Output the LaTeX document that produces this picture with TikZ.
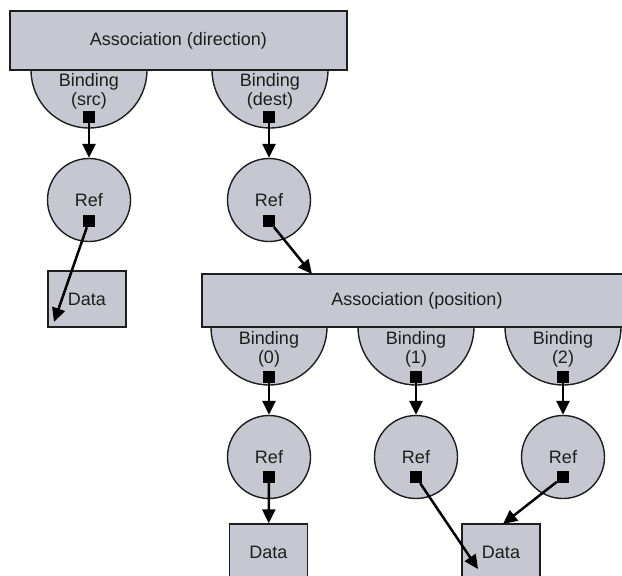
\documentclass[tikz,border=0pt]{standalone}
\usepackage{fontspec}
\setmainfont{Liberation Sans}
\usetikzlibrary{arrows.meta}
\definecolor{shade}{RGB}{199,199,209}
\definecolor{ink}{RGB}{30,30,30}
\begin{document}
\begin{tikzpicture}[x=1pt,y=-1pt,
  every node/.style={font=\fontsize{18}{19}\selectfont, text=ink},
  outline/.style={draw=ink, line width=1.4pt, fill=shade},
  assoc/.style={outline, inner sep=0pt},
  refnode/.style={outline, circle, minimum size=83pt, inner sep=0pt},
  databox/.style={outline, minimum width=78pt, minimum height=56pt, inner sep=0pt},
  port/.style={fill=black, minimum size=12pt, inner sep=0pt},
  bindtext/.style={align=center, inner sep=0pt},
  link/.style={line width=2.5pt, draw=black, -{Triangle[length=14pt,width=13pt]}},
]
\useasboundingbox (0,0) rectangle (622,576);
\clip (0,0) rectangle (622,576);

% half-disc bindings hanging under the association bars
\newcommand\halfdisc[2]{%
  \filldraw[outline] (#1-58,#2) arc[start angle=180, end angle=360, radius=58pt];}
\halfdisc{89}{70}
\halfdisc{270}{70}
\halfdisc{269}{327}
\halfdisc{416}{327}
\halfdisc{563}{327}

% association bars
\node[assoc, minimum width=337pt, minimum height=59pt] (dir) at (178.5,40.5) {Association (direction)};
\node[assoc, minimum width=430pt, minimum height=53pt] (pos) at (417,300.5) {Association (position)};

% binding labels and their ports
\node[bindtext] (bsrc) at (89,91) {Binding\\(src)};
\node[bindtext] (bdst) at (270,91) {Binding\\(dest)};
\node[bindtext] (b0) at (269,349) {Binding\\(0)};
\node[bindtext] (b1) at (416,349) {Binding\\(1)};
\node[bindtext] (b2) at (563,349) {Binding\\(2)};
\node[port] (psrc) at (89,117) {};
\node[port] (pdst) at (269,117) {};
\node[port] (p0) at (269,377) {};
\node[port] (p1) at (416,377) {};
\node[port] (p2) at (563,377) {};

% references
\node[refnode] (rsrc) at (89,200) {Ref};
\node[refnode] (rdst) at (269,200) {Ref};
\node[refnode] (r0) at (269,457) {Ref};
\node[refnode] (r1) at (416,457) {Ref};
\node[refnode] (r2) at (563,457) {Ref};
\node[port] (qsrc) at (89,221) {};
\node[port] (qdst) at (269,221) {};
\node[port] (q0) at (269,477) {};
\node[port] (q1) at (416,477) {};
\node[port] (q2) at (563,477) {};

% data
\node[databox] (dleft) at (87,299) {Data};
\node[databox] (d0) at (268.5,552) {Data};
\node[databox] (d1) at (501,552) {Data};

% free ends of the slanted links
\coordinate (tipleft) at (54,322);
\coordinate (tippos) at (312,274);
\coordinate (tipd1) at (478,569);
\coordinate (tipd1b) at (503,524);

% links
\draw[link] (psrc) -- (rsrc);
\draw[link] (pdst) -- (rdst);
\draw[link] (p0) -- (r0);
\draw[link] (p1) -- (r1);
\draw[link] (p2) -- (r2);
\draw[link] (qsrc) -- (tipleft);
\draw[link] (qdst) -- (tippos);
\draw[link] (q0) -- (d0);
\draw[link] (q1) -- (tipd1);
\draw[link] (q2) -- (tipd1b);
\end{tikzpicture}
\end{document}
